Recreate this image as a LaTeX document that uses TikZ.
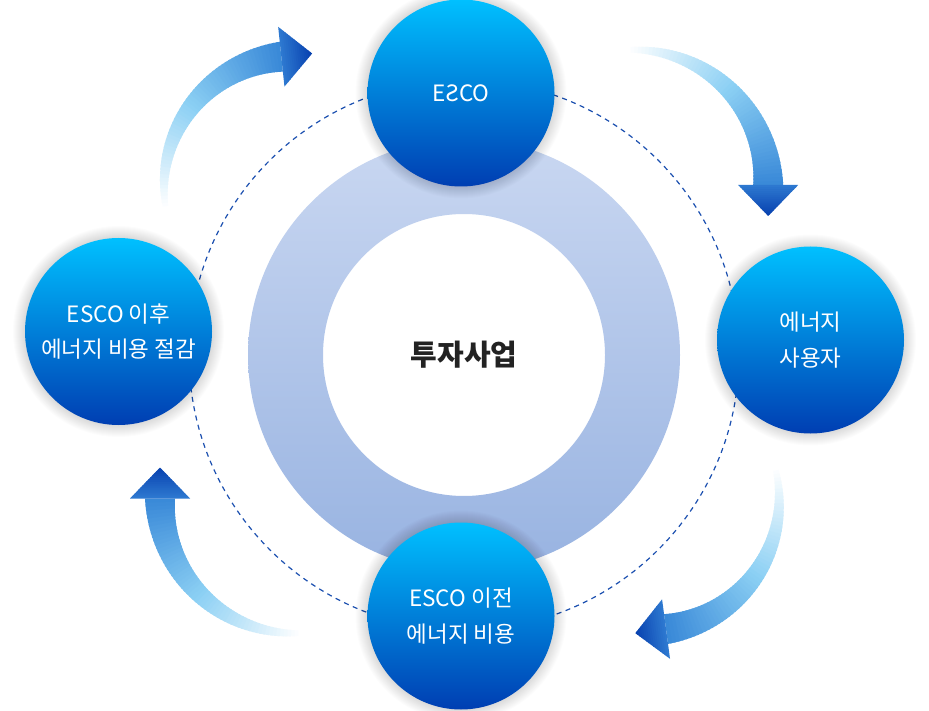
\documentclass[tikz,border=0pt]{standalone}
\usepackage{fontspec}
\usepackage{graphicx}
\newfontfamily\kr{Noto Sans CJK KR}
\usetikzlibrary{calc}
\definecolor{ctop}{RGB}{0,192,255}
\definecolor{cbot}{RGB}{0,62,178}
\definecolor{ringtop}{RGB}{201,215,241}
\definecolor{ringbot}{RGB}{152,179,225}
\definecolor{dashc}{RGB}{28,80,176}
\definecolor{amid}{RGB}{140,208,244}
\definecolor{aend}{RGB}{55,135,215}
\definecolor{hone}{RGB}{45,120,208}
\definecolor{htwo}{RGB}{8,66,176}
\definecolor{txt}{RGB}{34,34,34}
\tikzset{
  bubble/.style={circle, minimum size=187pt, inner sep=0pt, top color=ctop, bottom color=cbot,
    text=white, align=center, font=\kr\fontsize{22.5}{35.5}\selectfont},
  orbit/.style={draw=dashc, line width=1.2pt, dash pattern=on 5pt off 4.5pt},
  hubtext/.style={font=\kr\bfseries\fontsize{29}{34}\selectfont, text=txt},
}
\newcommand{\gradarrow}[4]{%
  \foreach \i in {0,...,59}{%
    \pgfmathsetmacro{\ta}{#3+(#4-#3)*\i/60}%
    \pgfmathsetmacro{\tb}{#3+(#4-#3)*min(\i+1.5,60)/60}%
    \pgfmathsetmacro{\wa}{2.5+12.5*\i/60}%
    \pgfmathsetmacro{\wb}{2.5+12.5*min(\i+1.5,60)/60}%
    \pgfmathsetmacro{\ria}{#2-\wa}\pgfmathsetmacro{\roa}{#2+\wa}%
    \pgfmathsetmacro{\rib}{#2-\wb}\pgfmathsetmacro{\rob}{#2+\wb}%
    \ifnum\i<30
      \pgfmathtruncatemacro{\pp}{100*\i/30}%
      \colorlet{segc}{amid!\pp!white}%
    \else
      \pgfmathtruncatemacro{\pp}{100*(\i-30)/30}%
      \colorlet{segc}{aend!\pp!amid}%
    \fi
    \fill[segc] ($(#1)+(\ta:\ria)$) -- ($(#1)+(\ta:\roa)$) -- ($(#1)+(\tb:\rob)$) -- ($(#1)+(\tb:\rib)$) -- cycle;
  }%
  \pgfmathsetmacro{\an}{#4+90}%
  \pgfmathsetmacro{\ao}{#4+180}%
  \foreach \j in {0,...,14}{%
    \pgfmathsetmacro{\la}{31*\j/15}%
    \pgfmathsetmacro{\lb}{31*min(\j+1.3,15)/15}%
    \pgfmathsetmacro{\ha}{30*(1-\j/15)}%
    \pgfmathsetmacro{\hb}{30*(1-min(\j+1.3,15)/15)}%
    \pgfmathtruncatemacro{\pp}{100*\j/14}%
    \colorlet{segc}{htwo!\pp!hone}%
    \fill[segc] ($(#1)+(#4:#2)+(\an:\la)+(#4:\ha)$) -- ($(#1)+(#4:#2)+(\an:\lb)+(#4:\hb)$)
       -- ($(#1)+(#4:#2)+(\an:\lb)+(\ao:\hb)$) -- ($(#1)+(#4:#2)+(\an:\la)+(\ao:\ha)$) -- cycle;
  }%
}
\newcommand{\halo}[1]{%
  \foreach \k in {1,...,12}{%
    \pgfmathsetmacro{\hr}{93.5+\k}%
    \fill[black, opacity=0.01] (#1) circle [radius=\hr];
  }%
}
\begin{document}
\begin{tikzpicture}[x=1pt,y=-1pt]
\useasboundingbox (0,0) rectangle (929,711);
\fill[white] (0,0) rectangle (929,711);
\coordinate (mid) at (464,355);
% orbit
\draw[orbit] (mid) circle [radius=275];
% ring
\shade[top color=ringtop, bottom color=ringbot, even odd rule] (mid) circle [radius=216] (mid) circle [radius=141];
% arrows
\coordinate (a1c) at (295,187);
\coordinate (a2c) at (633,185);
\coordinate (a3c) at (648.8,499.8);
\coordinate (a4c) at (294.7,498.5);
\gradarrow{a1c}{131}{170}{264}
\gradarrow{a2c}{135.2}{-92.5}{0}
\gradarrow{a3c}{130.4}{-14.6}{82.4}
\gradarrow{a4c}{134.7}{86.9}{180}
% bubbles
\coordinate (p1) at (461,93);
\coordinate (p2) at (810.5,340);
\coordinate (p3) at (461,616);
\coordinate (p4) at (118.5,331.5);
\halo{p1}\halo{p2}\halo{p3}\halo{p4}
\node[bubble] (esco) at (p1) {E\reflectbox{S}CO};
\node[bubble] (user) at (p2) {에너지\\사용자};
\node[bubble] (before) at (p3) {ESCO 이전\\에너지 비용};
\node[bubble] (after) at (p4) {ESCO 이후\\에너지 비용 절감};
\node[hubtext] (hub) at (mid) {투자사업};
\end{tikzpicture}
\end{document}
